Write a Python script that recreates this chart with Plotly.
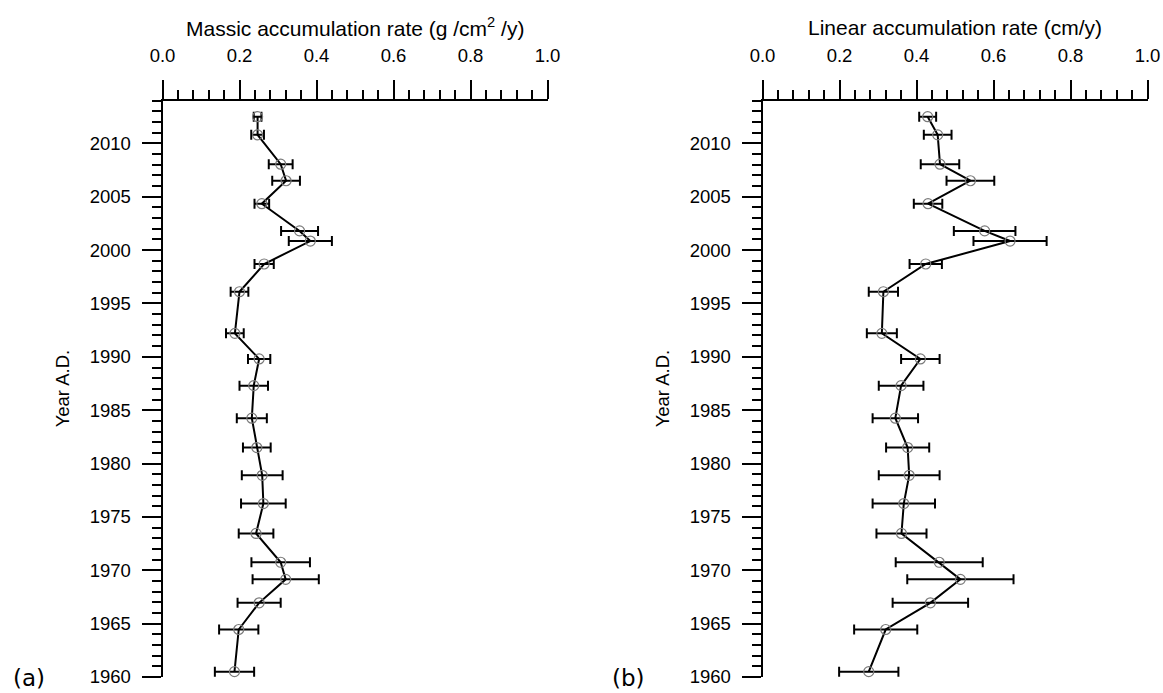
import plotly.graph_objects as go

# Sample years (A.D.) of the dated core sections, top to bottom
years = [2012.5, 2010.8, 2008.05, 2006.5, 2004.35, 2001.8, 2000.85, 1998.7,
         1996.1, 1992.2, 1989.8, 1987.3, 1984.25, 1981.5, 1978.9, 1976.25,
         1973.45, 1970.75, 1969.15, 1966.95, 1964.45, 1960.5]

# Massic accumulation rate (g/cm2/y) and its uncertainty
massic = [0.247, 0.247, 0.307, 0.321, 0.258, 0.356, 0.384, 0.264, 0.200, 0.188,
          0.251, 0.237, 0.232, 0.245, 0.259, 0.262, 0.243, 0.307, 0.320, 0.251,
          0.198, 0.187]
massic_err = [0.010, 0.0165, 0.031, 0.036, 0.019, 0.048, 0.056, 0.025, 0.023,
              0.023, 0.029, 0.037, 0.039, 0.036, 0.053, 0.058, 0.045, 0.076,
              0.086, 0.056, 0.051, 0.051]

# Linear accumulation rate (cm/y) and its uncertainty
linear = [0.429, 0.455, 0.461, 0.540, 0.430, 0.577, 0.643, 0.424, 0.314, 0.310,
          0.410, 0.360, 0.345, 0.377, 0.381, 0.367, 0.361, 0.459, 0.514, 0.436,
          0.320, 0.276]
linear_err = [0.022, 0.036, 0.050, 0.062, 0.037, 0.080, 0.095, 0.042, 0.038,
              0.039, 0.050, 0.058, 0.059, 0.056, 0.079, 0.081, 0.065, 0.113,
              0.138, 0.098, 0.082, 0.077]

x_titles = ["Massic accumulation rate (g /cm<sup>2</sup> /y)",
            "Linear accumulation rate (cm/y)"]
panel_labels = ["(a)", "(b)"]

W, H = 1163, 693
FONT = "Liberation Sans, Arial, sans-serif"


def trace(x, err, xa, ya):
    return go.Scatter(
        x=x, y=years, xaxis=xa, yaxis=ya, mode="lines+markers",
        line=dict(color="black", width=2),
        marker=dict(symbol="circle-open", size=10, color="#7a7a7a",
                    line=dict(width=1.2, color="#7a7a7a")),
        error_x=dict(type="data", array=err, symmetric=True, color="black",
                     thickness=2, width=5),
        showlegend=False, cliponaxis=False)


fig = go.Figure()
fig.add_trace(trace(massic, massic_err, "x", "y"))
fig.add_trace(trace(linear, linear_err, "x2", "y2"))

x_domains = [[162.5 / W, 547.5 / W], [762.5 / W, 1147.5 / W]]
y_domain = [1 - 677.0 / H, 1 - 100.7 / H]

xaxis_common = dict(
    range=[0, 1], side="top", tick0=0, dtick=0.2, tickformat=".1f",
    ticks="outside", ticklen=19, tickwidth=2, tickcolor="black",
    showline=True, linewidth=2, linecolor="black", showgrid=False,
    zeroline=False, ticklabelstandoff=10,
    tickfont=dict(family=FONT, size=18.5, color="black"),
    minor=dict(dtick=0.04, ticks="outside", ticklen=9, tickwidth=2,
               tickcolor="black", showgrid=False),
)
yaxis_common = dict(
    range=[1960, 2014], domain=y_domain, tick0=1960, dtick=5,
    ticks="outside", ticklen=19, tickwidth=2, tickcolor="black",
    showline=True, linewidth=2, linecolor="black", showgrid=False,
    zeroline=False, ticklabelstandoff=7,
    tickfont=dict(family=FONT, size=18.5, color="black"),
    minor=dict(dtick=1, ticks="outside", ticklen=9, tickwidth=2,
               tickcolor="black", showgrid=False),
)

fig.update_layout(
    width=W, height=H,
    margin=dict(l=0, r=0, t=0, b=0, autoexpand=False),
    plot_bgcolor="white", paper_bgcolor="white",
    xaxis=dict(xaxis_common, domain=x_domains[0], anchor="y"),
    yaxis=dict(yaxis_common, anchor="x"),
    xaxis2=dict(xaxis_common, domain=x_domains[1], anchor="y2"),
    yaxis2=dict(yaxis_common, anchor="x2"),
)

annotations = []
for i, dom in enumerate(x_domains):
    cx = (dom[0] + dom[1]) / 2
    annotations.append(dict(
        text=x_titles[i], x=cx, y=1 - 27 / H, xref="paper", yref="paper",
        xanchor="center", yanchor="middle", showarrow=False,
        font=dict(family=FONT, size=21, color="black")))
    annotations.append(dict(
        text="Year A.D.", x=dom[0] - 100 / W, y=sum(y_domain) / 2,
        xref="paper", yref="paper", xanchor="center", yanchor="middle",
        textangle=-90, showarrow=False,
        font=dict(family=FONT, size=18.5, color="black")))
    annotations.append(dict(
        text=panel_labels[i], x=dom[0] - 134 / W, y=1 - 678 / H,
        xref="paper", yref="paper", xanchor="center", yanchor="middle",
        showarrow=False,
        font=dict(family="DejaVu Sans", size=23, color="black")))
fig.update_layout(annotations=annotations)

fig.write_html("out.html")
